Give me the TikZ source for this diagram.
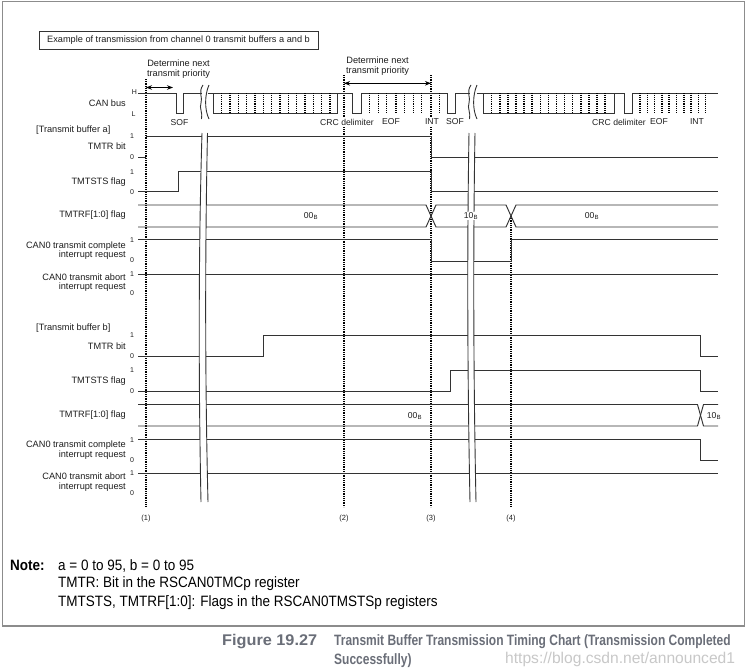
\documentclass[tikz,border=0pt]{standalone}
\usepackage{fontspec}
\setmainfont{Liberation Sans}
\newfontfamily\capfont[FakeStretch=0.8]{Liberation Sans}
\newfontfamily\figfont[FakeStretch=1.05]{Liberation Sans}
\newfontfamily\notefont[FakeStretch=0.9]{Liberation Sans}
\usetikzlibrary{arrows.meta}
\definecolor{lc}{HTML}{333333}
\definecolor{tc}{HTML}{1E1E1E}
\definecolor{capc}{HTML}{6A6E78}
\definecolor{framec}{HTML}{8C8C8C}
\definecolor{wmc}{HTML}{C8C8C8}
\begin{document}
\begin{tikzpicture}[x=1pt,y=-1pt,
  sig/.style={draw=lc,line width=0.95pt,line join=miter},
  vdot/.style={draw=black,line width=1.8pt,dash pattern=on 1pt off 0.8pt},
  bdot/.style={draw=black,line width=1.5pt,dash pattern=on 1pt off 0.9pt},
  lbl/.style={font=\fontsize{9.2}{9.4}\selectfont,text=tc,inner sep=0pt,align=right,anchor=east},
  hdr/.style={font=\fontsize{9.2}{9.4}\selectfont,text=tc,inner sep=0pt,anchor=west},
  lvl/.style={font=\fontsize{7}{8}\selectfont,text=tc,inner sep=0pt},
  val/.style={font=\fontsize{8.6}{9}\selectfont,text=tc,inner sep=0.6pt},
  lab/.style={val,fill=white,inner sep=1pt},
  ann/.style={font=\fontsize{9.2}{10}\selectfont,text=tc,inner sep=0pt,align=center},
  brk/.style={draw=lc,line width=0.9pt},
  dbl/.style={draw=black,line width=1pt,{Stealth[length=6pt,width=4.5pt]}-{Stealth[length=6pt,width=4.5pt]}},
  note/.style={font=\notefont\fontsize{15}{17}\selectfont,text=black,inner sep=0pt,anchor=base west},
  capt/.style={font=\capfont\bfseries\fontsize{15}{17}\selectfont,text=capc,inner sep=0pt,anchor=base west}
]
\useasboundingbox (0,0) rectangle (748,672);
\fill[white] (0,0) rectangle (748,672);
% outer frame
\draw[framec,line width=1.5pt] (2.5,1.5) rectangle (744.5,626);

% title box
\node[draw=lc,line width=0.8pt,minimum width=279pt,minimum height=17.6pt,inner sep=0pt,
  font=\fontsize{9.2}{10}\selectfont,text=tc] (title) at (178.5,40.5)
  {Example of transmission from channel 0 transmit buffers a and b};

% ---------- vertical dotted timing lines ----------
\coordinate (t1a) at (146,79);  \coordinate (t1b) at (146,507);
\coordinate (t2a) at (344,75);  \coordinate (t2b) at (344,507);
\coordinate (t3a) at (431,75);  \coordinate (t3b) at (431,507);
\coordinate (t4a) at (511,216); \coordinate (t4b) at (511,507);
\draw[vdot] (t1a) -- (t1b);
\draw[vdot] (t2a) -- (t2b);
\draw[vdot] (t3a) -- (t3b);
\draw[vdot] (t4a) -- (t4b);
\node[lvl,font=\fontsize{7.5}{8}\selectfont] (n1) at (146,518.5) {(1)};
\node[lvl,font=\fontsize{7.5}{8}\selectfont] (n2) at (344,518.5) {(2)};
\node[lvl,font=\fontsize{7.5}{8}\selectfont] (n3) at (431,518.5) {(3)};
\node[lvl,font=\fontsize{7.5}{8}\selectfont] (n4) at (511,518.5) {(4)};

% ---------- Determine next transmit priority ----------
\node[ann] (det1) at (178.5,69.3) {Determine next\\transmit priority};
\node[ann] (det2) at (377.6,66.2) {Determine next\\transmit priority};
\coordinate (a1l) at (146,87.5); \coordinate (a1r) at (173,87.5);
\coordinate (a2l) at (344,83.3); \coordinate (a2r) at (431,83.3);
\draw[dbl] (a1l) -- (a1r);
\draw[dbl] (a2l) -- (a2r);

% ---------- CAN bus ----------
\node[lbl] (canbus) at (126,103) {CAN bus};
\node[lvl] (hH) at (134.5,92) {H};
\node[lvl] (hL) at (133.5,114) {L};
\draw[sig] (138,93) -- (176,93) -- (176,113) -- (183,113) -- (183,93) -- (201.5,93);
\draw[sig] (207.5,93) -- (352,93) -- (352,113) -- (361,113) -- (361,93) -- (447,93)
  -- (447,113) -- (455.5,113) -- (455.5,93) -- (470,93);
\draw[sig] (213.5,93) -- (213.5,113) -- (337,113) -- (337,93);
\draw[sig] (476.5,93) -- (624,93) -- (624,113) -- (632,113) -- (632,93) -- (718,93);
\draw[sig] (483,93) -- (483,113) -- (614,113) -- (614,93);
% bit marks
\foreach \i in {0,...,13} \draw[bdot] ({221.7+8.33*\i},93) -- ++(0,20);
\foreach \x in {369.3,378.3,386.7,396,404.3,413.3,421.7,439.3} \draw[bdot] (\x,93) -- ++(0,20);
\foreach \i in {0,...,14} \draw[bdot] ({491.7+8.1*\i},93) -- ++(0,20);
\foreach \i in {0,...,9} \draw[bdot] ({640+7.3*\i},93) -- ++(0,20);
% wavy breaks on the bus
\foreach \o in {0,268}{
  \draw[brk] (203+\o,85) .. controls (198+\o,92) and (203+\o,98) .. (201+\o,103)
    .. controls (199+\o,108) and (203+\o,113) .. (201.5+\o,119);
  \draw[brk] (209+\o,85) .. controls (204.5+\o,95) and (204.5+\o,110) .. (209+\o,119);
}
% bus field labels
\node[lab] (sof1) at (179.5,122.5) {SOF};
\node[lab] (crc1) at (347,122) {CRC delimiter};
\node[lab] (eof1) at (391,122) {EOF};
\node[lab] (int1) at (432,122) {INT};
\node[lab] (sof2) at (455,122) {SOF};
\node[lab] (crc2) at (619,122) {CRC delimiter};
\node[lab] (eof2) at (659,122) {EOF};
\node[lab] (int2) at (697,122) {INT};

% ---------- Transmit buffer a ----------
\node[hdr] (bufa) at (36,130) {[Transmit buffer a]};
\node[lbl] (tmtra) at (126,146) {TMTR bit};
\node[lvl] at (132,136) {1}; \node[lvl] at (132,157) {0};
\draw[sig] (138,157.5) -- (146,157.5);
\draw[sig] (146,136) -- (431,136) -- (431,157.5) -- (718,157.5);

\node[lbl] (tmtsa) at (126,182) {TMTSTS flag};
\node[lvl] at (132,172) {1}; \node[lvl] at (132,192) {0};
\draw[sig] (138,191.5) -- (178,191.5) -- (178,171) -- (431,171) -- (431,191.5) -- (718,191.5);

\node[lbl] (tmtrfa) at (126,215.5) {TMTRF[1:0] flag};
\draw[sig] (138,205) -- (426,205) -- (436,227) -- (506,227) -- (516,205) -- (718,205);
\draw[sig] (138,227) -- (426,227) -- (436,205) -- (506,205) -- (516,227) -- (718,227);

\node[lbl] (cmpa) at (126,250.5) {CAN0 transmit complete\\interrupt request};
\node[lvl] at (132,240) {1}; \node[lvl] at (132,260) {0};
\draw[sig] (138,239.5) -- (431,239.5) -- (431,261.5) -- (511,261.5) -- (511,239.5) -- (718,239.5);

\node[lbl] (abta) at (126,282.5) {CAN0 transmit abort\\interrupt request};
\node[lvl] at (132,274) {1}; \node[lvl] at (132,293) {0};
\draw[sig] (138,274) -- (718,274);

% ---------- Transmit buffer b ----------
\node[hdr] (bufb) at (36,328) {[Transmit buffer b]};
\node[lbl] (tmtrb) at (126,346) {TMTR bit};
\node[lvl] at (132,335) {1}; \node[lvl] at (132,356) {0};
\draw[sig] (138,356.5) -- (263,356.5) -- (263,335) -- (700,335) -- (700,356.5) -- (718,356.5);

\node[lbl] (tmtsb) at (126,381) {TMTSTS flag};
\node[lvl] at (132,370) {1}; \node[lvl] at (132,391) {0};
\draw[sig] (138,391) -- (450,391) -- (450,370) -- (700,370) -- (700,391) -- (718,391);

\node[lbl] (tmtrfb) at (126,415.5) {TMTRF[1:0] flag};
\draw[sig] (138,404.5) -- (697.5,404.5) -- (703.5,426) -- (718,426);
\draw[sig] (138,426) -- (697.5,426) -- (703.5,404.5) -- (718,404.5);

\node[lbl] (cmpb) at (126,450) {CAN0 transmit complete\\interrupt request};
\node[lvl] at (132,440) {1}; \node[lvl] at (132,460) {0};
\draw[sig] (138,439.5) -- (700,439.5) -- (700,460.7) -- (718,460.7);

\node[lbl] (abtb) at (126,482) {CAN0 transmit abort\\interrupt request};
\node[lvl] at (132,473) {1}; \node[lvl] at (132,493) {0};
\draw[sig] (138,473.7) -- (718,473.7);

% ---------- long breaks ----------
\fill[white] (202,133) .. controls (198.5,250) and (198.5,380) .. (201,502) -- (208,502)
  .. controls (205,380) and (205,250) .. (207.5,133) -- cycle;
\draw[brk] (202,133) .. controls (198.5,250) and (198.5,380) .. (201,502);
\draw[brk] (207.5,133) .. controls (205,250) and (205,380) .. (208,502);
\fill[white] (469,133) .. controls (467,250) and (467.5,380) .. (470,502) -- (476,502)
  .. controls (473.5,380) and (473,250) .. (475,133) -- cycle;
\draw[brk] (469,133) .. controls (467,250) and (467.5,380) .. (470,502);
\draw[brk] (475,133) .. controls (473,250) and (473.5,380) .. (476,502);

% bus values
\node[val] (va1) at (311,216) {00\textsubscript{B}};
\node[val,fill=white] (va2) at (471,216) {10\textsubscript{B}};
\node[val] (va3) at (592,216) {00\textsubscript{B}};
\node[val] (vb1) at (415,416) {00\textsubscript{B}};
\node[val] (vb2) at (714,416) {10\textsubscript{B}};

% ---------- note ----------
\node[note,font=\notefont\bfseries\fontsize{15}{17}\selectfont] (notek) at (10,570) {Note:};
\node[note] (note1) at (58,570) {a = 0 to 95, b = 0 to 95};
\node[note] (note2) at (58,587.5) {TMTR: Bit in the RSCAN0TMCp register};
\node[note] (note3) at (58,606) {TMTSTS, TMTRF[1:0]: Flags in the RSCAN0TMSTSp registers};

% ---------- caption ----------
\node[capt,font=\figfont\bfseries\fontsize{15.5}{17}\selectfont] (fig) at (222,645.5) {Figure 19.27};
\node[capt] (cap1) at (334,645.5) {Transmit Buffer Transmission Timing Chart (Transmission Completed};
\node[capt] (cap2) at (334,664) {Successfully)};
\node[font=\fontsize{15.6}{16}\selectfont,text=wmc,inner sep=0pt,anchor=base west] (wm) at (505,663) {https://blog.csdn.net/announced1};
\end{tikzpicture}
\end{document}
